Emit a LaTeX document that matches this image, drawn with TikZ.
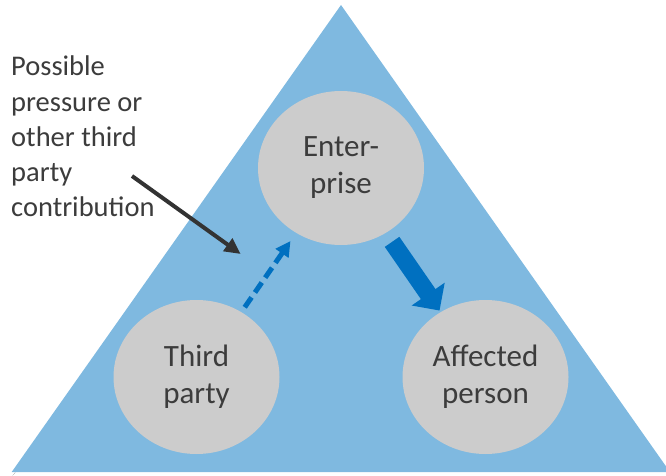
\documentclass[tikz,border=0pt]{standalone}
\usepackage{fontspec}
\setmainfont{Carlito}
\usetikzlibrary{arrows.meta,shapes.geometric}
\definecolor{tri}{RGB}{127,185,224}
\definecolor{circ}{RGB}{204,204,204}
\definecolor{arrblue}{RGB}{0,112,192}
\definecolor{txt}{RGB}{60,60,60}
\definecolor{darrow}{RGB}{51,51,51}
\definecolor{shade}{RGB}{170,170,170}
\begin{document}
\begin{tikzpicture}[x=1pt,y=-1pt,
  party/.style={ellipse, fill=circ, minimum width=166pt, minimum height=154pt,
    inner sep=0pt, outer sep=0pt, align=center, text=txt,
    font=\fontsize{31}{37}\selectfont},
  lbltext/.style={anchor=base west, align=left, inner sep=0pt, text=txt,
    font=\fontsize{28.5}{35.2}\selectfont},
  blackarrow/.style={darrow, line width=4pt, -{Triangle[length=16pt,width=15pt]}},
  dasharrow/.style={arrblue, line width=5pt, dash pattern=on 12pt off 6pt,
    -{Triangle[length=15pt,width=15pt]}},
  thickarrow/.style={arrblue, line width=17.7pt, -{Triangle[length=20pt,width=39pt]}}]
\useasboundingbox (0,0) rectangle (666,476);
\fill[shade] (342,8) -- (12.7,476) -- (671,476) -- cycle;
\fill[tri] (341,5) -- (11.7,472) -- (670,472) -- cycle;
\node[party] (ent) at (341,168) {Enter-\\prise};
\node[party] (tp) at (196.5,377) {Third\\party};
\node[party] (aff) at (485.5,377) {Affected\\person};
\node[lbltext] (lbl) at (11,216.7) {Possible\\pressure or\\other third\\party\\contribution};
\coordinate (bs) at (132,176);
\coordinate (be) at (240.7,254);
\draw[blackarrow] (bs) -- (be);
\draw[dasharrow, shorten <=6pt, shorten >=10pt] (tp) -- (ent);
\draw[thickarrow, shorten <=11pt, shorten >=2pt] (ent) -- (aff);
\end{tikzpicture}
\end{document}
